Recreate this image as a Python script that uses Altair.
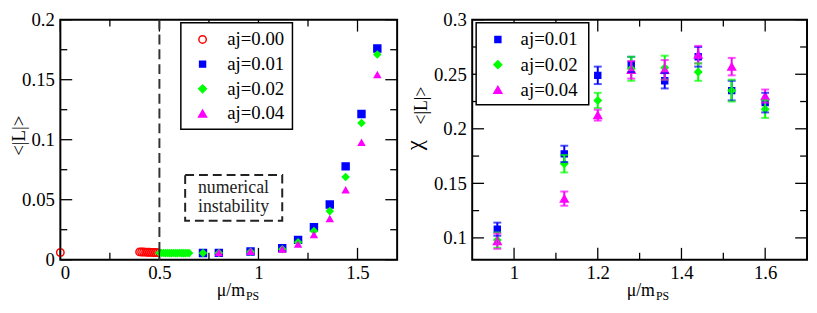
import altair as alt
import pandas as pd

FONT = "Liberation Serif, Times New Roman, serif"

# ---------------- series styling (legend order) ----------------
series_names = ["aj=0.00", "aj=0.01", "aj=0.02", "aj=0.04"]
stroke_colors = ["#ff0000", "#0000ff", "#00ff00", "#ff00ff"]
fill_colors = ["transparent", "#0000ff", "#00ff00", "#ff00ff"]
shapes = ["circle", "square", "diamond", "triangle-up"]
marker_sizes = [56, 36, 60, 64]

# ---------------- left panel: <|L|> vs mu/m_PS ----------------
mu_aj000 = [0.00, 0.40, 0.41, 0.42, 0.43, 0.44, 0.45, 0.46, 0.47, 0.48, 0.49]
L_aj000 = [0.0060, 0.0065, 0.0064, 0.0064, 0.0063, 0.0062, 0.0062, 0.0061, 0.0060, 0.0060, 0.0059]

mu_aj001 = [0.72, 0.80, 0.96, 1.12, 1.20, 1.28, 1.36, 1.44, 1.52, 1.60]
L_aj001 = [0.0056, 0.0057, 0.0068, 0.0095, 0.0165, 0.0270, 0.0460, 0.0778, 0.1214, 0.1760]

mu_aj002 = [0.50, 0.51, 0.52, 0.53, 0.54, 0.55, 0.56, 0.57, 0.58, 0.59, 0.60, 0.61,
            0.62, 0.63, 0.64, 0.65, 0.72, 0.80, 0.96, 1.12, 1.20, 1.28, 1.36, 1.44,
            1.52, 1.60]
L_aj002 = [0.0056, 0.0056, 0.0056, 0.0055, 0.0056, 0.0055, 0.0055, 0.0056, 0.0055,
           0.0055, 0.0056, 0.0055, 0.0055, 0.0055, 0.0056, 0.0055, 0.0055, 0.0056,
           0.0066, 0.0088, 0.0145, 0.0240, 0.0405, 0.0690, 0.1140, 0.1710]

mu_aj004 = [0.80, 0.96, 1.12, 1.20, 1.28, 1.36, 1.44, 1.52, 1.60]
L_aj004 = [0.0056, 0.0066, 0.0086, 0.0127, 0.0206, 0.0340, 0.0580, 0.0976, 0.1540]

left_x_domain = [0.0, 1.7]
left_y_domain = [0.0, 0.2]
left_x_major = [0.0, 0.5, 1.0, 1.5]
left_x_minor = [0.25, 0.75, 1.25]
left_y_major = [0.0, 0.05, 0.1, 0.15, 0.2]
left_y_minor = [0.025, 0.075, 0.125, 0.175]
instability_x = [0.5]
note_box = {"x0": [0.63], "x1": [1.12], "y0": [0.0325], "y1": [0.0706]}
note_lines = ["numerical", "instability"]
note_x = [0.874, 0.874]
note_y = [0.0595, 0.0437]

# ---------------- right panel: chi_<|L|> vs mu/m_PS ----------------
mu_chi = [0.96, 1.12, 1.20, 1.28, 1.36, 1.44, 1.52, 1.60]
chi_aj001 = [0.108, 0.177, 0.249, 0.259, 0.244, 0.266, 0.235, 0.224]
err_aj001 = [0.006, 0.0075, 0.008, 0.007, 0.007, 0.009, 0.009, 0.009]
chi_aj002 = [0.098, 0.168, 0.226, 0.255, 0.256, 0.252, 0.235, 0.218]
err_aj002 = [0.007, 0.008, 0.007, 0.011, 0.011, 0.008, 0.010, 0.008]
chi_aj004 = [0.097, 0.136, 0.2125, 0.254, 0.254, 0.268, 0.257, 0.230]
err_aj004 = [0.007, 0.0065, 0.005, 0.008, 0.009, 0.008, 0.008, 0.006]

right_x_domain = [0.9, 1.7]
right_y_domain = [0.08, 0.3]
right_x_major = [1.0, 1.2, 1.4, 1.6]
right_x_minor = [1.1, 1.3, 1.5]
right_y_major = [0.1, 0.15, 0.2, 0.25, 0.3]
right_y_minor = [0.125, 0.175, 0.225, 0.275]

# ---------------- layout ----------------
WL, WR, H = 341, 339, 243
MAJ, MIN = 12, 7
LABEL_SIZE = 19


class Panel:
    def __init__(self, xdom, ydom, xmaj, ymaj):
        self.xs = alt.Scale(domain=xdom, nice=False, zero=False)
        self.ys = alt.Scale(domain=ydom, nice=False, zero=False)
        self.xa = alt.Axis(values=xmaj, title=None, format="~g", labelFont=FONT,
                           labelFontSize=LABEL_SIZE, labelPadding=4)
        self.ya = alt.Axis(values=ymaj, title=None, format="~g", labelFont=FONT,
                           labelFontSize=LABEL_SIZE, labelPadding=6)

    def X(self, f):
        return alt.X(f, scale=self.xs, axis=self.xa, title=None)

    def Y(self, f):
        return alt.Y(f, scale=self.ys, axis=self.ya, title=None)


def frame_ticks(p, xmaj, xmin, ymaj, ymin, W):
    layers = []
    for vals, ln in ((xmaj, MAJ), (xmin, MIN)):
        base = alt.Chart(pd.DataFrame({"tx": vals})).mark_rule(color="black", strokeWidth=1.3)
        layers.append(base.encode(x=p.X("tx:Q"), y=alt.value(H), y2=alt.value(H - ln)))
        layers.append(base.encode(x=p.X("tx:Q"), y=alt.value(0), y2=alt.value(ln)))
    for vals, ln in ((ymaj, MAJ), (ymin, MIN)):
        base = alt.Chart(pd.DataFrame({"ty": vals})).mark_rule(color="black", strokeWidth=1.3)
        layers.append(base.encode(y=p.Y("ty:Q"), x=alt.value(0), x2=alt.value(ln)))
        layers.append(base.encode(y=p.Y("ty:Q"), x=alt.value(W), x2=alt.value(W - ln)))
    return layers


def point_enc(names):
    idx = [series_names.index(n) for n in names]
    return dict(
        stroke=alt.Stroke("series:N", scale=alt.Scale(domain=names, range=[stroke_colors[i] for i in idx]), legend=None),
        fill=alt.Fill("series:N", scale=alt.Scale(domain=names, range=[fill_colors[i] for i in idx]), legend=None),
        shape=alt.Shape("series:N", scale=alt.Scale(domain=names, range=[shapes[i] for i in idx]), legend=None),
        size=alt.Size("series:N", scale=alt.Scale(domain=names, range=[marker_sizes[i] for i in idx]), legend=None),
    )


def text_layer(t, x, y, size, angle=0, align="center", baseline="middle"):
    return alt.Chart(pd.DataFrame({"t": [t]})).mark_text(
        font=FONT, fontSize=size, angle=angle, align=align, baseline=baseline, color="black"
    ).encode(x=alt.value(x), y=alt.value(y), text="t:N")


def legend_layers(names, bx, by, bw, bh, sym_dx, txt_dx, row0, dy):
    one = pd.DataFrame({"k": [0]})
    layers = [alt.Chart(one).mark_rect(fill="white", stroke="black", strokeWidth=1.5).encode(
        x=alt.value(bx), x2=alt.value(bx + bw), y=alt.value(by), y2=alt.value(by + bh))]
    for k, n in enumerate(names):
        i = series_names.index(n)
        yy = by + row0 + k * dy
        if i == 0:
            pt = alt.Chart(one).mark_point(filled=False, color=stroke_colors[i], shape=shapes[i],
                                           size=marker_sizes[i], strokeWidth=1.5, opacity=1)
        else:
            pt = alt.Chart(one).mark_point(filled=True, color=stroke_colors[i], stroke=stroke_colors[i],
                                           shape=shapes[i], size=marker_sizes[i], strokeWidth=1.5, opacity=1)
        layers.append(pt.encode(x=alt.value(bx + sym_dx), y=alt.value(yy)))
        layers.append(text_layer(n, bx + txt_dx, yy, LABEL_SIZE, align="left"))
    return layers


# ---- left chart
left_rows = []
for name, xs_, ys_ in ((series_names[0], mu_aj000, L_aj000), (series_names[1], mu_aj001, L_aj001),
                       (series_names[2], mu_aj002, L_aj002), (series_names[3], mu_aj004, L_aj004)):
    for a, b in zip(xs_, ys_):
        left_rows.append({"series": name, "mu": a, "L": b})
left_df = pd.DataFrame(left_rows)

pl = Panel(left_x_domain, left_y_domain, left_x_major, left_y_major)

left_points = alt.Chart(left_df).mark_point(opacity=1, strokeWidth=1.5).encode(
    x=pl.X("mu:Q"), y=pl.Y("L:Q"), **point_enc(series_names),
)

dashed = alt.Chart(pd.DataFrame({"vx": instability_x})).mark_rule(
    color="#333333", strokeWidth=2, strokeDash=[10, 5]
).encode(x=pl.X("vx:Q"))

box = alt.Chart(pd.DataFrame(note_box)).mark_rect(
    fill="white", fillOpacity=0, stroke="#222222", strokeWidth=2, strokeDash=[9, 5]
).encode(x=pl.X("x0:Q"), x2="x1:Q", y=pl.Y("y0:Q"), y2="y1:Q")

note = alt.Chart(pd.DataFrame({"t": note_lines, "nx": note_x, "ny": note_y})).mark_text(
    font=FONT, fontSize=18, color="#222222"
).encode(x=pl.X("nx:Q"), y=pl.Y("ny:Q"), text="t:N")

left = alt.layer(
    left_points,
    *frame_ticks(pl, left_x_major, left_x_minor, left_y_major, left_y_minor, WL),
    dashed, box, note,
    *legend_layers(series_names, 122, 3, 113, 108, 22, 47, 17, 25),
    text_layer("<|L|>", -42, H / 2 - 4, 19, angle=270),
    text_layer("\u03bc/m", 187, H + 37, 18, align="right", baseline="alphabetic"),
    text_layer("PS", 188, H + 41, 12, align="left", baseline="alphabetic"),
).properties(width=WL, height=H)

# ---- right chart
right_rows = []
for name, ys_, es_ in ((series_names[1], chi_aj001, err_aj001), (series_names[2], chi_aj002, err_aj002),
                       (series_names[3], chi_aj004, err_aj004)):
    for a, b, e in zip(mu_chi, ys_, es_):
        right_rows.append({"series": name, "mu": a, "chi": b, "lo": b - e, "hi": b + e})
right_df = pd.DataFrame(right_rows)

pr = Panel(right_x_domain, right_y_domain, right_x_major, right_y_major)
rnames = series_names[1:]
rcol = alt.Color("series:N", scale=alt.Scale(domain=rnames, range=stroke_colors[1:]), legend=None)

right_points = alt.Chart(right_df).mark_point(opacity=1, strokeWidth=1.5).encode(
    x=pr.X("mu:Q"), y=pr.Y("chi:Q"), **point_enc(rnames),
)
bars = alt.Chart(right_df).mark_rule(strokeWidth=2).encode(
    x=pr.X("mu:Q"), y=pr.Y("lo:Q"), y2="hi:Q", color=rcol
)
cap_lo = alt.Chart(right_df).mark_tick(orient="horizontal", thickness=2, size=8).encode(
    x=pr.X("mu:Q"), y=pr.Y("lo:Q"), color=rcol
)
cap_hi = alt.Chart(right_df).mark_tick(orient="horizontal", thickness=2, size=8).encode(
    x=pr.X("mu:Q"), y=pr.Y("hi:Q"), color=rcol
)

right = alt.layer(
    right_points,
    *frame_ticks(pr, right_x_major, right_x_minor, right_y_major, right_y_minor, WR),
    bars, cap_lo, cap_hi,
    *legend_layers(rnames, 4, 3, 114, 83, 22, 45, 17, 25.5),
    text_layer("\u03c7", -58, 127, 23, angle=270),
    text_layer("<|L|>", -51, 87, 18, angle=270),
    text_layer("\u03bc/m", 185, H + 37, 18, align="right", baseline="alphabetic"),
    text_layer("PS", 186, H + 41, 12, align="left", baseline="alphabetic"),
).properties(width=WR, height=H)

chart = alt.hconcat(left, right, spacing=4).resolve_scale(
    stroke="independent", fill="independent", shape="independent", size="independent", color="independent"
).properties(
    padding={"left": 1, "top": 0, "right": 0, "bottom": 0}
).configure_axis(
    labelFont=FONT, labelFontSize=LABEL_SIZE, labelColor="black", ticks=False, tickSize=0,
    domain=False, grid=False
).configure_view(
    stroke="black", strokeWidth=2
)

chart.save("out.html", embed_options={"renderer": "svg", "actions": False})
